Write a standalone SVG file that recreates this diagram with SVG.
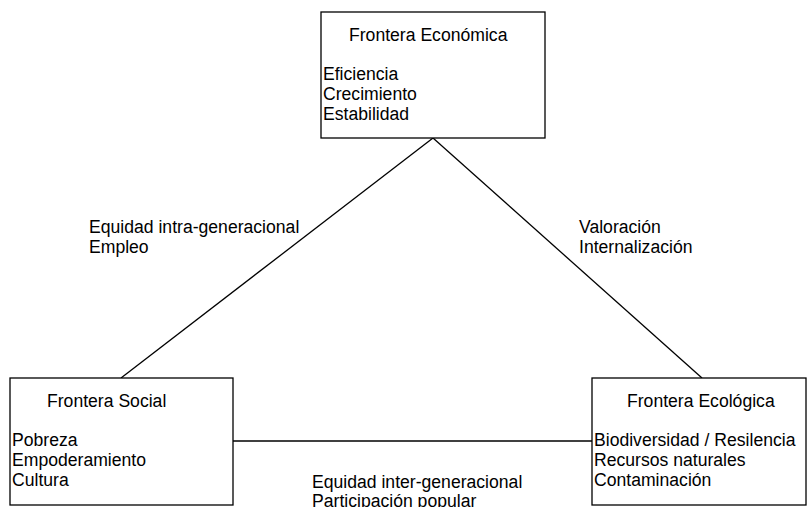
<svg xmlns="http://www.w3.org/2000/svg" width="807" height="507" viewBox="0 0 807 507">
<style>
.box{fill:#fff;stroke:#000;stroke-width:1.3}
.t{font-family:"Liberation Sans",Arial,sans-serif;font-size:17.6px;fill:#000}
.c{stroke:#000;stroke-width:1.3;fill:none}
</style>
<rect width="807" height="507" fill="#fff"/>
<g id="connectors">
<line class="c" x1="433" y1="138" x2="121" y2="378"/>
<line class="c" x1="433" y1="138" x2="702" y2="378"/>
<line class="c" x1="233" y1="441" x2="592" y2="441"/>
</g>
<g id="node-economica">
<rect class="box" x="321" y="12" width="224" height="126"/>
<text class="t" x="349" y="41">Frontera Económica</text>
<text class="t" x="323" y="80">Eficiencia</text>
<text class="t" x="323" y="100">Crecimiento</text>
<text class="t" x="323" y="120">Estabilidad</text>
</g>
<g id="node-social">
<rect class="box" x="10" y="378" width="223" height="127"/>
<text class="t" x="47" y="407">Frontera Social</text>
<text class="t" x="12" y="446">Pobreza</text>
<text class="t" x="12" y="466">Empoderamiento</text>
<text class="t" x="12" y="486">Cultura</text>
</g>
<g id="node-ecologica">
<rect class="box" x="592" y="378" width="214" height="127"/>
<text class="t" x="627" y="407">Frontera Ecológica</text>
<text class="t" x="594" y="446">Biodiversidad / Resilencia</text>
<text class="t" x="594" y="466">Recursos naturales</text>
<text class="t" x="594" y="486">Contaminación</text>
</g>
<g id="label-intra">
<text class="t" x="89" y="233">Equidad intra-generacional</text>
<text class="t" x="89" y="253">Empleo</text>
</g>
<g id="label-valoracion">
<text class="t" x="579" y="233">Valoración</text>
<text class="t" x="579" y="253">Internalización</text>
</g>
<g id="label-inter">
<text class="t" x="312" y="488">Equidad inter-generacional</text>
<text class="t" x="312" y="507">Participación popular</text>
</g>
</svg>
